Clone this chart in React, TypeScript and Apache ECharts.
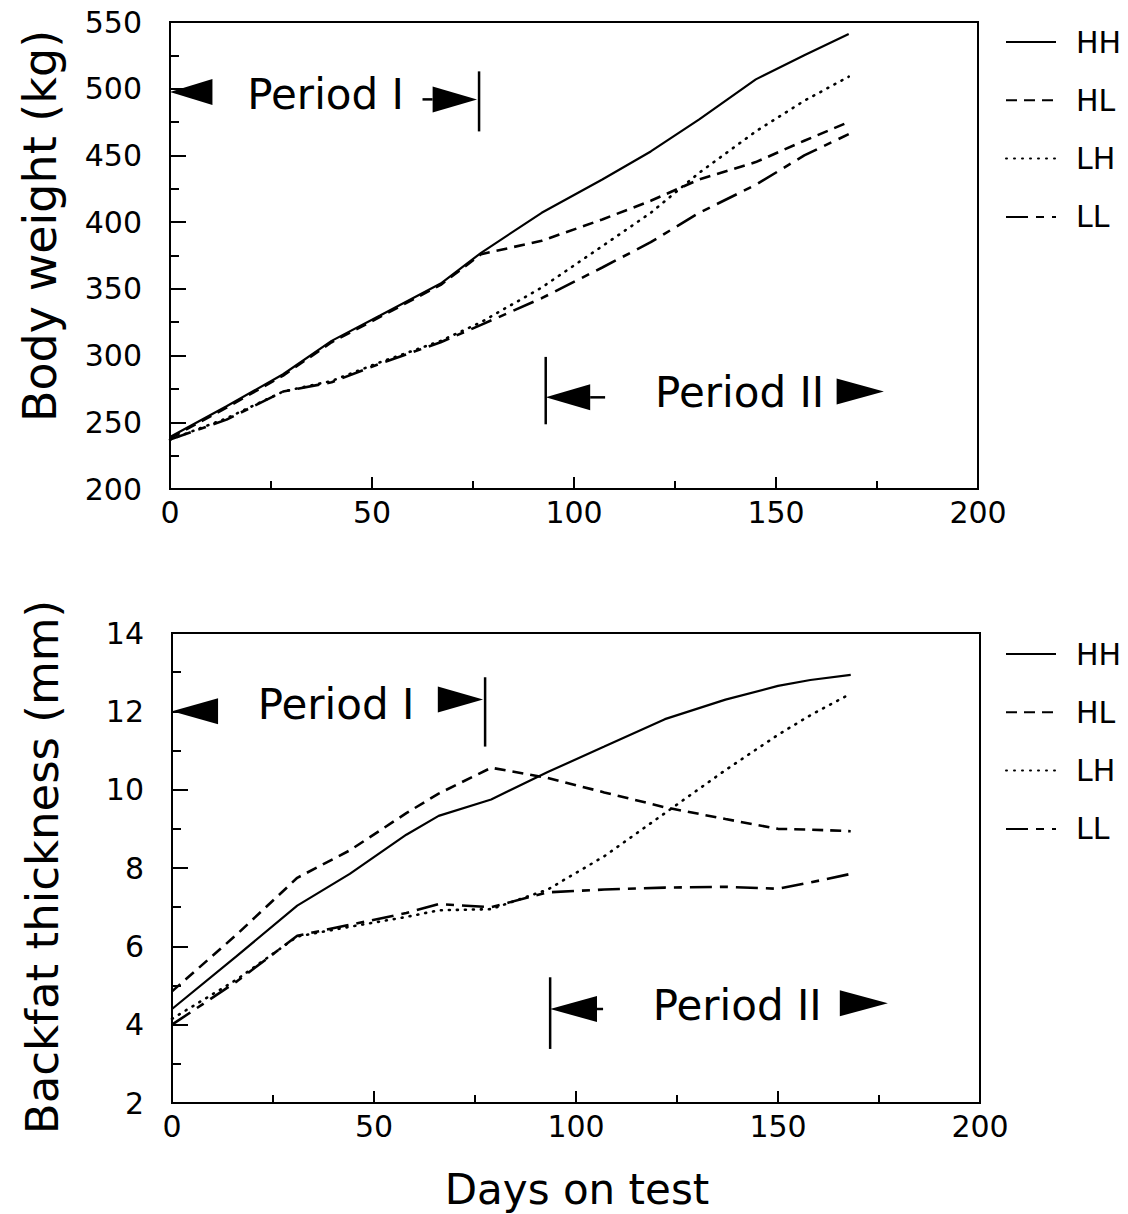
import React, { useEffect, useRef } from "react";
import * as echarts from "echarts";

const seriesNames = ["HH", "HL", "LH", "LL"];

// Body weight (kg) vs days on test
const bwDays = [0, 14, 28, 40, 52, 67, 77, 92, 107, 119, 131, 145, 157, 168];
const bwHH = [239, 262, 286, 311, 330, 354, 377, 407, 432, 453, 477, 507, 525, 541];
const bwHL = [238, 261, 285, 310, 329, 353, 376, 386, 402, 416, 432, 445, 461, 475];
const bwLH = [237, 253, 273, 281, 295, 311, 325, 351, 382, 407, 437, 468, 491, 509];
const bwLL = [237, 252, 273, 280, 294, 310, 323, 343, 366, 385, 407, 428, 450, 466];

// Backfat thickness (mm) vs days on test
const bfDays = [0, 16, 31, 44, 58, 66, 79, 93, 107, 122, 137, 150, 158, 168];
const bfHH = [4.4, 5.75, 7.04, 7.85, 8.85, 9.33, 9.75, 10.45, 11.1, 11.8, 12.3, 12.65, 12.8, 12.93];
const bfHL = [4.85, 6.3, 7.75, 8.45, 9.4, 9.9, 10.56, 10.3, 9.93, 9.55, 9.25, 9.0, 8.98, 8.94];
const bfLH = [4.15, 5.15, 6.25, 6.5, 6.75, 6.92, 6.95, 7.45, 8.3, 9.4, 10.5, 11.4, 11.9, 12.45];
const bfLL = [4.0, 5.1, 6.27, 6.55, 6.85, 7.08, 7.0, 7.38, 7.45, 7.5, 7.52, 7.47, 7.63, 7.85];

const bwTicks = [200, 550, 50];
const bfTicks = [2, 14, 2];
const dayTicks = [0, 200, 50];

// Period annotations in data coordinates
const periodAnnotations = [
  {
    grid: 0,
    label: "Period I",
    text: [38.5, 496],
    leftArrow: { tip: 0, base: 10.5, y: 497.5 },
    connectorLeft: null,
    rightArrow: { base: 65, tip: 76, y: 492 },
    connectorRight: [62.5, 65, 492],
    bar: [76.5, 468, 513],
  },
  {
    grid: 0,
    label: "Period II",
    text: [141, 272.5],
    leftArrow: { tip: 93, base: 104, y: 268.7 },
    connectorLeft: [104, 107.7, 268.7],
    rightArrow: { base: 165, tip: 176.7, y: 273 },
    connectorRight: null,
    bar: [93, 248.5, 299],
  },
  {
    grid: 1,
    label: "Period I",
    text: [40.6, 12.18],
    leftArrow: { tip: 0, base: 11.4, y: 12.0 },
    connectorLeft: null,
    rightArrow: { base: 65.8, tip: 77, y: 12.3 },
    connectorRight: null,
    bar: [77.5, 11.1, 12.87],
  },
  {
    grid: 1,
    label: "Period II",
    text: [139.9, 4.5],
    leftArrow: { tip: 93.6, base: 105.2, y: 4.4 },
    connectorLeft: [105.2, 106.7, 4.4],
    rightArrow: { base: 165.3, tip: 177.2, y: 4.55 },
    connectorRight: null,
    bar: [93.6, 3.38, 5.21],
  },
];

const FONT = "DejaVu Sans";

export default function App() {
  const ref = useRef<HTMLDivElement>(null);

  useEffect(() => {
    const chart = echarts.init(ref.current!, null, { renderer: "svg" });

    const lineStyles: any[] = [
      { type: "solid", width: 2.2, color: "#000" },
      { type: [11, 7], width: 2.6, color: "#000" },
      { type: [1, 7], width: 2.6, color: "#000", cap: "round" },
      { type: [22, 8, 8, 8], width: 2.6, color: "#000" },
    ];

    const xAxis = (gi: number) => ({
      type: "value",
      gridIndex: gi,
      min: dayTicks[0],
      max: dayTicks[1],
      interval: dayTicks[2],
      axisLine: { show: true, lineStyle: { color: "#000", width: 2 } },
      axisTick: { show: true, inside: true, length: 12, lineStyle: { color: "#000", width: 2 } },
      minorTick: { show: true, splitNumber: 2, length: 8, lineStyle: { color: "#000", width: 2 } },
      axisLabel: { color: "#000", fontSize: 30, fontFamily: FONT, margin: 8 },
      splitLine: { show: false },
    });

    const yAxis = (gi: number, t: number[]) => ({
      type: "value",
      gridIndex: gi,
      min: t[0],
      max: t[1],
      interval: t[2],
      axisLine: { show: true, lineStyle: { color: "#000", width: 2 } },
      axisTick: { show: true, inside: true, length: 16, lineStyle: { color: "#000", width: 2 } },
      minorTick: { show: true, splitNumber: 2, length: 9, lineStyle: { color: "#000", width: 2 } },
      axisLabel: { color: "#000", fontSize: 30, fontFamily: FONT, margin: 28 },
      splitLine: { show: false },
    });

    const bwSets = [bwHH, bwHL, bwLH, bwLL];
    const bfSets = [bfHH, bfHL, bfLH, bfLL];

    const series: any[] = [];
    seriesNames.forEach((name, k) => {
      series.push({
        name,
        type: "line",
        xAxisIndex: 0,
        yAxisIndex: 0,
        symbol: "none",
        lineStyle: lineStyles[k],
        itemStyle: { color: "#000" },
        data: bwDays.map((d, i) => [d, bwSets[k][i]]),
      });
    });
    seriesNames.forEach((name, k) => {
      series.push({
        name,
        type: "line",
        xAxisIndex: 1,
        yAxisIndex: 1,
        symbol: "none",
        lineStyle: lineStyles[k],
        itemStyle: { color: "#000" },
        data: bfDays.map((d, i) => [d, bfSets[k][i]]),
      });
    });

    const legend = (top: number) => ({
      data: seriesNames,
      orient: "vertical",
      left: 1000,
      top,
      itemWidth: 50,
      itemHeight: 14,
      itemGap: 28.3,
      selectedMode: false,
      itemStyle: { color: "transparent", borderColor: "transparent", borderWidth: 0, opacity: 0 },
      textStyle: {
        fontSize: 30,
        fontFamily: FONT,
        color: "#000",
        lineHeight: 30,
        padding: [0, 0, 0, 15],
      },
    });

    chart.setOption({
      animation: false,
      backgroundColor: "#fff",
      grid: [
        { left: 170, top: 22, width: 808, height: 467, show: true, borderColor: "#000", borderWidth: 2 },
        { left: 172, top: 633, width: 808, height: 470, show: true, borderColor: "#000", borderWidth: 2 },
      ],
      xAxis: [xAxis(0), xAxis(1)],
      yAxis: [yAxis(0, bwTicks), yAxis(1, bfTicks)],
      legend: [legend(22), legend(634)],
      series,
    });

    const px = (g: number, x: number, y: number) =>
      chart.convertToPixel({ gridIndex: g } as any, [x, y]) as number[];

    const H = 13;
    const els: any[] = [];
    const fill = "#000";
    periodAnnotations.forEach((a) => {
      const g = a.grid;
      const lt = px(g, a.leftArrow.tip, a.leftArrow.y);
      const lb = px(g, a.leftArrow.base, a.leftArrow.y);
      els.push({
        type: "polygon",
        shape: { points: [[lt[0], lt[1]], [lb[0], lb[1] - H], [lb[0], lb[1] + H]] },
        style: { fill },
      });
      const rb = px(g, a.rightArrow.base, a.rightArrow.y);
      const rt = px(g, a.rightArrow.tip, a.rightArrow.y);
      els.push({
        type: "polygon",
        shape: { points: [[rb[0], rb[1] - H], [rt[0], rt[1]], [rb[0], rb[1] + H]] },
        style: { fill },
      });
      [a.connectorLeft, a.connectorRight].forEach((c) => {
        if (!c) return;
        const p1 = px(g, c[0], c[2]);
        const p2 = px(g, c[1], c[2]);
        els.push({
          type: "line",
          shape: { x1: p1[0], y1: p1[1], x2: p2[0], y2: p2[1] },
          style: { stroke: "#000", lineWidth: 2.5 },
        });
      });
      const b1 = px(g, a.bar[0], a.bar[1]);
      const b2 = px(g, a.bar[0], a.bar[2]);
      els.push({
        type: "line",
        shape: { x1: b1[0], y1: b1[1], x2: b2[0], y2: b2[1] },
        style: { stroke: "#000", lineWidth: 2.5 },
      });
      const tp = px(g, a.text[0], a.text[1]);
      els.push({
        type: "text",
        x: tp[0],
        y: tp[1],
        style: {
          text: a.label,
          fill: "#000",
          fontSize: 42,
          fontFamily: FONT,
          textAlign: "center",
          textVerticalAlign: "middle",
          align: "center",
          verticalAlign: "middle",
        },
      });
    });

    const nameText = (text: string, x: number, y: number, rot: number, size: number) => ({
      type: "text",
      x,
      y,
      rotation: rot,
      style: {
        text,
        fill: "#000",
        fontSize: size,
        fontFamily: FONT,
        textAlign: "center",
        textVerticalAlign: "middle",
        align: "center",
        verticalAlign: "middle",
      },
    });
    els.push(nameText("Body weight (kg)", 40, 226, Math.PI / 2, 46));
    els.push(nameText("Backfat thickness (mm)", 42, 867, Math.PI / 2, 45));
    els.push(nameText("Days on test", 577, 1189, 0, 42));

    chart.setOption({ graphic: els });

    return () => chart.dispose();
  }, []);

  return (
    <div
      ref={ref}
      style={{ position: "absolute", left: 0, top: 0, width: 1128, height: 1214, background: "#fff" }}
    />
  );
}
